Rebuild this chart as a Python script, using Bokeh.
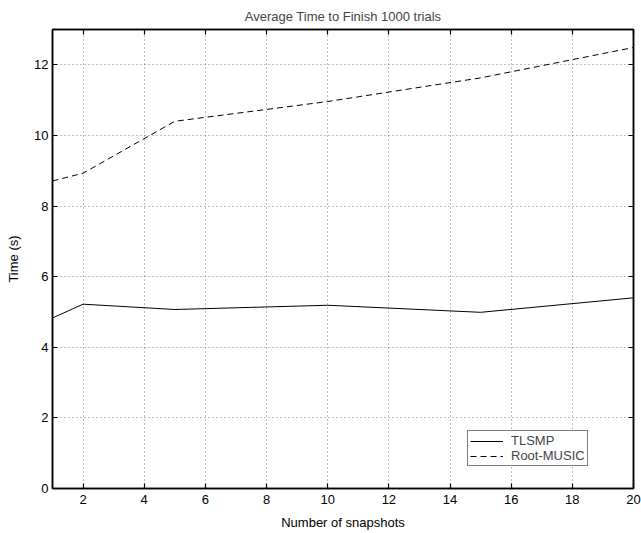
from bokeh.plotting import figure
from bokeh.models import LinearAxis, FixedTicker, Range1d, Legend, LegendItem
from bokeh.embed import file_html
from bokeh.resources import INLINE

# Data
snapshots = [1, 2, 5, 10, 15, 20]
tlsmp = [4.83, 5.22, 5.07, 5.19, 4.99, 5.40]
root_music = [8.71, 8.93, 10.40, 10.96, 11.63, 12.49]
x_ticks = [2, 4, 6, 8, 10, 12, 14, 16, 18, 20]
y_ticks = [0, 2, 4, 6, 8, 10, 12]

FONT = "Liberation Sans"

p = figure(width=641, height=533, x_range=Range1d(1, 20), y_range=Range1d(0, 13),
           output_backend="svg", toolbar_location=None,
           min_border_left=52, min_border_right=8, min_border_top=0, min_border_bottom=45,
           background_fill_color="white", border_fill_color="white")

p.title.text = "Average Time to Finish 1000 trials"
p.title.align = "center"
p.title.text_font = FONT
p.title.text_font_size = "13px"
p.title.text_font_style = "normal"
p.title.standoff = 12

p.outline_line_color = "black"
p.outline_line_width = 1.5

def style_axis(ax, ticks, labels=True):
    ax.ticker = FixedTicker(ticks=ticks)
    ax.major_tick_in = 5
    ax.major_tick_out = 0
    ax.minor_tick_line_color = None
    ax.axis_line_color = "black"
    ax.axis_line_width = 1.5
    ax.major_tick_line_color = "black"
    ax.major_tick_line_width = 1.2
    ax.major_label_text_font = FONT
    ax.major_label_text_color = "black"
    ax.major_label_text_font_size = "13px"
    ax.axis_label_text_font = FONT
    ax.axis_label_text_font_style = "normal"
    ax.axis_label_text_font_size = "13px"
    ax.axis_label_text_color = "black"
    if not labels:
        ax.major_label_overrides = {t: "" for t in ticks}
        ax.major_label_standoff = 0

style_axis(p.xaxis[0], x_ticks)
style_axis(p.yaxis[0], y_ticks)
p.xaxis[0].axis_label = "Number of snapshots"
p.yaxis[0].axis_label = "Time (s)"
p.xaxis[0].major_label_standoff = 6
p.xaxis[0].axis_label_standoff = 8
p.yaxis[0].major_label_standoff = 4
p.yaxis[0].axis_label_standoff = 10

top_ax = LinearAxis()
style_axis(top_ax, x_ticks, labels=False)
p.add_layout(top_ax, "above")
right_ax = LinearAxis()
style_axis(right_ax, y_ticks, labels=False)
p.add_layout(right_ax, "right")

p.xgrid.ticker = FixedTicker(ticks=x_ticks)
p.ygrid.ticker = FixedTicker(ticks=y_ticks)
for g in (p.xgrid, p.ygrid):
    g.grid_line_color = "black"
    g.grid_line_alpha = 0.5
    g.grid_line_dash = "1 3"
    g.grid_line_width = 1

r1 = p.line(snapshots, tlsmp, line_color="black", line_width=1)
r2 = p.line(snapshots, root_music, line_color="black", line_width=1, line_dash="6 4")

legend = Legend(items=[LegendItem(label="TLSMP", renderers=[r1]),
                       LegendItem(label="Root-MUSIC", renderers=[r2])],
                location=(415, 22))
legend.border_line_color = "black"
legend.border_line_width = 1.5
legend.background_fill_color = "white"
legend.background_fill_alpha = 1
legend.label_text_font = FONT
legend.label_text_font_size = "13px"
legend.padding = 2
legend.spacing = 0
legend.margin = 0
legend.glyph_width = 33
legend.glyph_height = 14
legend.label_height = 14
legend.label_standoff = 8
p.add_layout(legend, "center")

open("out.html", "w").write(file_html(p, INLINE))
